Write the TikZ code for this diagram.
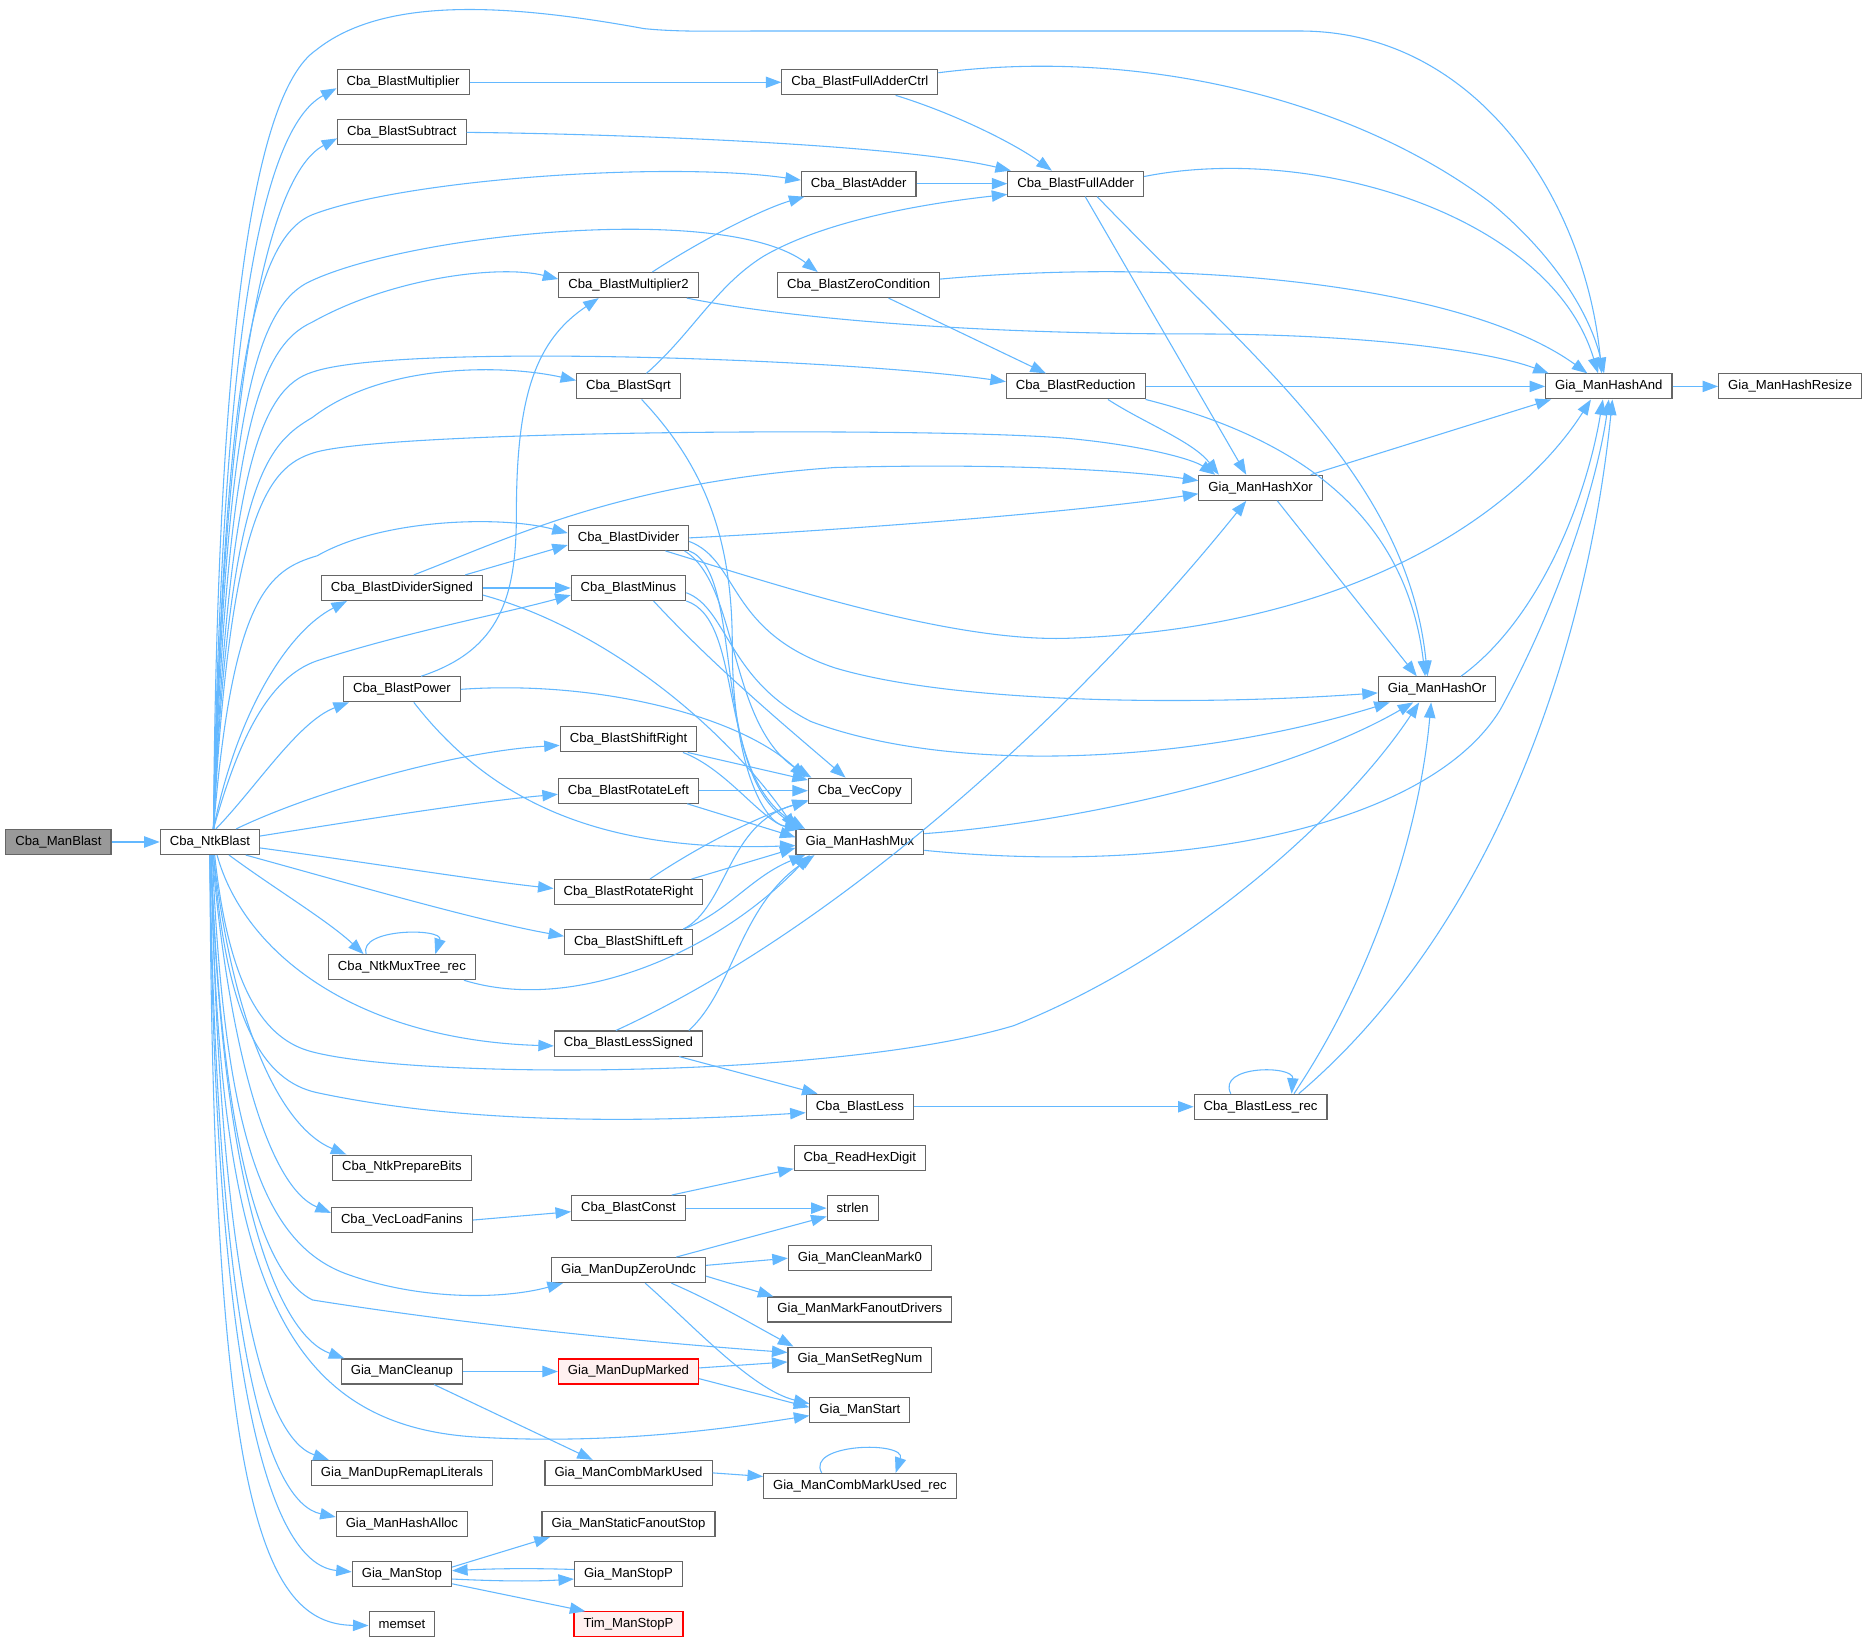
\documentclass[tikz,border=0pt]{standalone}
\usepackage{fontspec}
\setmainfont{Liberation Sans}
\usetikzlibrary{arrows.meta}
\definecolor{Edge}{RGB}{99,184,255}
\definecolor{Frame}{RGB}{102,102,102}
\definecolor{Root}{RGB}{153,153,153}
\definecolor{Lost}{RGB}{255,240,240}

\begin{document}
\begin{tikzpicture}[x=1pt,y=-1pt,>={Triangle[length=13pt,width=9.5pt]},
  fn/.style={draw=Frame,line width=0.9pt,fill=white,inner xsep=8pt,inner ysep=0pt,minimum height=21pt,font=\fontsize{11}{13}\selectfont},
  root/.style={fn,fill=Root},
  lost/.style={fn,draw=red,fill=Lost},
  call/.style={->,draw=Edge,line width=0.9pt}]
\fill[white] (0,0) rectangle (1568,1379);
\useasboundingbox (0,0) rectangle (1568,1379);

\node[root] (mb) at (49,706) {Cba\_ManBlast};
\node[fn] (nb) at (176,706) {Cba\_NtkBlast};
\node[fn] (mul) at (338,69) {Cba\_BlastMultiplier};
\node[fn] (sub) at (337,111) {Cba\_BlastSubtract};
\node[fn] (fac) at (721,69) {Cba\_BlastFullAdderCtrl};
\node[fn] (add) at (720,154) {Cba\_BlastAdder};
\node[fn] (fa) at (902,154) {Cba\_BlastFullAdder};
\node[fn] (mul2) at (527,239) {Cba\_BlastMultiplier2};
\node[fn] (zc) at (720,239) {Cba\_BlastZeroCondition};
\node[fn] (sqrt) at (527,324) {Cba\_BlastSqrt};
\node[fn] (redu) at (902,324) {Cba\_BlastReduction};
\node[fn] (hand) at (1349,324) {Gia\_ManHashAnd};
\node[fn] (hres) at (1501,324) {Gia\_ManHashResize};
\node[fn] (hxor) at (1057,409) {Gia\_ManHashXor};
\node[fn] (div) at (527,451) {Cba\_BlastDivider};
\node[fn] (divs) at (337,493) {Cba\_BlastDividerSigned};
\node[fn] (minus) at (527,493) {Cba\_BlastMinus};
\node[fn] (pow) at (337,578) {Cba\_BlastPower};
\node[fn] (hor) at (1205,578) {Gia\_ManHashOr};
\node[fn] (shr) at (527,620) {Cba\_BlastShiftRight};
\node[fn] (rotl) at (527,663) {Cba\_BlastRotateLeft};
\node[fn] (vcp) at (721,663) {Cba\_VecCopy};
\node[fn] (hmux) at (721,706) {Gia\_ManHashMux};
\node[fn] (rotr) at (527,748) {Cba\_BlastRotateRight};
\node[fn] (shl) at (527,790) {Cba\_BlastShiftLeft};
\node[fn] (mux) at (337,811) {Cba\_NtkMuxTree\_rec};
\node[fn] (lss) at (527,875) {Cba\_BlastLessSigned};
\node[fn] (less) at (721,928) {Cba\_BlastLess};
\node[fn] (lrec) at (1057,928) {Cba\_BlastLess\_rec};
\node[fn] (prep) at (337,979) {Cba\_NtkPrepareBits};
\node[fn] (hex) at (721,971) {Cba\_ReadHexDigit};
\node[fn] (vlf) at (337,1023) {Cba\_VecLoadFanins};
\node[fn] (cst) at (527,1013) {Cba\_BlastConst};
\node[fn] (strlen) at (715,1013) {strlen};
\node[fn] (cm0) at (721,1055) {Gia\_ManCleanMark0};
\node[fn] (dzu) at (527,1065) {Gia\_ManDupZeroUndc};
\node[fn] (mfd) at (721,1098) {Gia\_ManMarkFanoutDrivers};
\node[fn] (srn) at (721,1140) {Gia\_ManSetRegNum};
\node[fn] (clean) at (337,1150) {Gia\_ManCleanup};
\node[lost] (dmk) at (527,1150) {Gia\_ManDupMarked};
\node[fn] (start) at (721,1182) {Gia\_ManStart};
\node[fn] (drl) at (337,1235) {Gia\_ManDupRemapLiterals};
\node[fn] (cmu) at (527,1235) {Gia\_ManCombMarkUsed};
\node[fn] (cmur) at (721,1246) {Gia\_ManCombMarkUsed\_rec};
\node[fn] (halloc) at (337,1278) {Gia\_ManHashAlloc};
\node[fn] (sfs) at (527,1278) {Gia\_ManStaticFanoutStop};
\node[fn] (stop) at (337,1320) {Gia\_ManStop};
\node[fn] (stopp) at (527,1320) {Gia\_ManStopP};
\node[lost] (tim) at (527,1362) {Tim\_ManStopP};
\node[fn] (mset) at (337,1362) {memset};

\draw[call] (mb) -- (nb);

\draw[call] ([xshift=3pt]nb.north) .. controls (182,300) and (210,80) .. (265,42) .. controls (320,-2) and (420,2) .. (540,24) .. controls (570,27) and (600,26) .. (640,26) -- (1090,26) .. controls (1240,26) and (1330,170) .. ([xshift=-6pt]hand.north);
\draw[call] ([xshift=3pt]nb.north) .. controls (185,330) and (212,112) .. ([yshift=-5pt]mul.west);
\draw[call] ([xshift=3pt]nb.north) .. controls (186,360) and (218,150) .. ([yshift=-5pt]sub.west);
\draw[call] ([xshift=3pt]nb.north) .. controls (188,320) and (212,200) .. (262,180) .. controls (340,150) and (560,135) .. ([yshift=3pt]add.west);
\draw[call] ([xshift=3pt]nb.north) .. controls (189,340) and (215,255) .. (262,235) .. controls (350,195) and (610,170) .. ([xshift=34pt]zc.north west);
\draw[call] ([xshift=3pt]nb.north) .. controls (190,360) and (218,290) .. (262,270) .. controls (330,232) and (420,222) .. ([yshift=5pt]mul2.west);
\draw[call] ([xshift=3pt]nb.north) .. controls (191,390) and (220,325) .. (262,312) .. controls (330,288) and (700,300) .. ([yshift=4pt]redu.west);
\draw[call] ([xshift=3pt]nb.north) .. controls (192,400) and (225,372) .. (262,350) .. controls (320,305) and (420,305) .. ([yshift=5pt]sqrt.west);
\draw[call] ([xshift=3pt]nb.north) .. controls (193,430) and (225,392) .. (262,380) .. controls (320,360) and (800,358) .. (900,368) .. controls (960,374) and (1000,385) .. ([xshift=-38pt]hxor.north);
\draw[call] ([xshift=3pt]nb.north) .. controls (195,500) and (225,478) .. (266,466) .. controls (320,435) and (420,432) .. ([yshift=4pt]div.west);
\draw[call] ([xshift=3pt]nb.north) .. controls (198,600) and (240,530) .. ([xshift=22pt]divs.south west);
\draw[call] ([xshift=3pt]nb.north) .. controls (200,620) and (225,568) .. (266,554) .. controls (340,530) and (420,515) .. ([yshift=-6pt]minus.west);
\draw[call] ([xshift=5pt]nb.north) .. controls (215,660) and (250,605) .. ([xshift=5pt]pow.south west);
\draw[call] ([xshift=22pt]nb.north) .. controls (260,665) and (380,630) .. ([yshift=-5pt]shr.west);
\draw[call] ([yshift=5pt]nb.east) .. controls (300,688) and (400,672) .. ([yshift=-3pt]rotl.west);
\draw[call] ([yshift=-5pt]nb.east) .. controls (300,722) and (400,738) .. ([yshift=3pt]rotr.west);
\draw[call] ([xshift=30pt]nb.south) .. controls (290,740) and (400,772) .. ([yshift=5pt]shl.west);
\draw[call] ([xshift=16pt]nb.south) .. controls (230,745) and (275,772) .. ([xshift=30pt]mux.north west);
\draw[call] ([xshift=6pt]nb.south) .. controls (205,800) and (300,872) .. ([yshift=-2pt]lss.west);
\draw[call] ([xshift=4pt]nb.south) .. controls (192,830) and (222,872) .. (262,882) .. controls (350,905) and (700,905) .. (850,860) .. controls (1000,800) and (1130,680) .. ([xshift=-15pt]hor.south);
\draw[call] ([xshift=3pt]nb.south) .. controls (190,860) and (222,906) .. (265,916) .. controls (400,945) and (560,940) .. ([yshift=-5pt]less.west);
\draw[call] ([xshift=3pt]nb.south) .. controls (195,860) and (235,945) .. ([xshift=12pt]prep.north west);
\draw[call] ([xshift=2pt]nb.south) .. controls (192,880) and (225,995) .. ([yshift=6pt]vlf.west);
\draw[call] ([xshift=2pt]nb.south) .. controls (188,950) and (220,1042) .. (290,1068) .. controls (350,1090) and (420,1090) .. ([xshift=10pt]dzu.south west);
\draw[call] ([xshift=1pt]nb.south) .. controls (186,980) and (225,1072) .. (262,1090) .. controls (400,1112) and (550,1126) .. ([yshift=6pt]srn.west);
\draw[call] ([xshift=1pt]nb.south) .. controls (186,1010) and (235,1120) .. ([xshift=3pt]clean.north west);
\draw[call] ([xshift=1pt]nb.south) .. controls (183,1060) and (230,1195) .. (400,1205) .. controls (520,1212) and (620,1196) .. ([yshift=-5pt]start.west);
\draw[call] ([xshift=1pt]nb.south) .. controls (184,1070) and (220,1205) .. ([xshift=15pt]drl.north west);
\draw[call] (nb.south) .. controls (182,1130) and (225,1260) .. ([yshift=6pt]halloc.west);
\draw[call] (nb.south) .. controls (180,1180) and (230,1312) .. ([yshift=2pt]stop.west);
\draw[call] (nb.south) .. controls (178,1260) and (220,1362) .. ([yshift=-1pt]mset.west);

\draw[call] (mul) -- (fac);
\draw[call] ([yshift=8pt]fac.east) .. controls (950,40) and (1130,80) .. (1250,170) .. controls (1310,220) and (1335,270) .. ([xshift=-4pt]hand.north);
\draw[call] ([xshift=30pt]fac.south) .. controls (800,95) and (850,120) .. ([xshift=-20pt]fa.north);
\draw[call] (sub.east) .. controls (500,112) and (750,120) .. ([xshift=3pt]fa.north west);
\draw[call] (add) -- (fa);
\draw[call] ([yshift=6pt]fa.east) .. controls (1100,120) and (1300,180) .. ([xshift=-9pt]hand.north);
\draw[call] ([xshift=8pt]fa.south) -- ([xshift=-12pt]hxor.north);
\draw[call] ([xshift=18pt]fa.south) .. controls (1050,300) and (1180,400) .. ([xshift=-8pt]hor.north);
\draw[call] ([xshift=20pt]mul2.north) .. controls (590,200) and (640,175) .. ([xshift=3pt]add.south west);
\draw[call] ([xshift=-10pt]mul2.south east) .. controls (650,265) and (800,280) .. (1000,280) .. controls (1150,280) and (1250,295) .. ([xshift=3pt]hand.north west);
\draw[call] ([yshift=5pt]zc.east) .. controls (1000,215) and (1230,240) .. ([xshift=-18pt]hand.north);
\draw[call] ([xshift=25pt]zc.south) -- ([xshift=-25pt]redu.north);
\draw[call] ([xshift=15pt]sqrt.north) .. controls (580,280) and (600,240) .. (640,215) .. controls (700,180) and (800,168) .. ([yshift=2pt]fa.south west);
\draw[call] ([xshift=11pt]sqrt.south) .. controls (590,390) and (614,450) .. (614,540) .. controls (614,640) and (640,690) .. ([xshift=4pt]hmux.north west);
\draw[call] (redu) -- (hand);
\draw[call] ([xshift=27pt]redu.south) .. controls (960,355) and (1000,370) .. ([xshift=-35pt]hxor.north);
\draw[call] (redu.south east) .. controls (1100,370) and (1180,440) .. ([xshift=-10pt]hor.north);
\draw[call] (hand) -- (hres);
\draw[call] ([xshift=42pt]hxor.north) -- ([xshift=5pt]hand.south west);
\draw[call] ([xshift=14pt]hxor.south) -- ([xshift=-17pt]hor.north);
\draw[call] ([xshift=20pt]hor.north) .. controls (1290,520) and (1330,420) .. ([xshift=-5pt]hand.south);

\draw[call] (div.east) .. controls (700,445) and (900,430) .. ([yshift=-5pt]hxor.west);
\draw[call] ([xshift=-20pt]div.south east) .. controls (650,490) and (800,540) .. (900,535) .. controls (1150,525) and (1280,420) .. ([xshift=-15pt]hand.south);
\draw[call] ([yshift=-3pt]div.east) .. controls (620,470) and (610,530) .. (700,560) .. controls (800,590) and (1000,592) .. ([yshift=-3pt]hor.west);
\draw[call] ([xshift=-4pt]div.south east) .. controls (620,490) and (610,610) .. ([xshift=3pt]vcp.north west);
\draw[call] (div.south east) .. controls (625,480) and (595,650) .. ([xshift=6pt]hmux.north west);
\draw[call] ([xshift=10pt]divs.north) .. controls (430,450) and (520,405) .. (700,392) .. controls (850,388) and (950,395) .. ([yshift=6pt]hxor.west);
\draw[call] ([xshift=-15pt]divs.north east) -- ([yshift=-6pt]div.west);
\draw[call] (divs) -- (minus);
\draw[call] ([yshift=-6pt]divs.east) .. controls (500,525) and (600,600) .. (hmux.north west);
\draw[call] ([yshift=-4pt]minus.east) .. controls (610,510) and (610,570) .. (680,605) .. controls (800,650) and (1000,640) .. ([xshift=10pt]hor.south west);
\draw[call] ([xshift=21pt]minus.south) .. controls (600,560) and (660,610) .. ([xshift=-12pt]vcp.north);
\draw[call] (minus.south east) .. controls (625,520) and (600,650) .. ([xshift=8pt]hmux.north west);
\draw[call] ([xshift=16pt]pow.north) .. controls (420,545) and (433,500) .. (433,430) .. controls (433,330) and (450,285) .. ([xshift=-25pt]mul2.south);
\draw[call] (pow.east) .. controls (500,570) and (620,600) .. ([xshift=-2pt]vcp.north west);
\draw[call] ([xshift=10pt]pow.south) .. controls (410,670) and (500,715) .. ([yshift=-3pt]hmux.west);

\draw[call] ([xshift=-8pt]shr.south east) -- ([yshift=-2pt]vcp.north west);
\draw[call] ([xshift=-12pt]shr.south east) .. controls (610,645) and (640,690) .. ([xshift=5pt]hmux.north west);
\draw[call] (rotl) -- (vcp);
\draw[call] ([xshift=-10pt]rotl.south east) -- ([yshift=4pt]hmux.west);
\draw[call] ([xshift=18pt]rotr.north) .. controls (600,700) and (650,680) .. ([yshift=3pt]vcp.south west);
\draw[call] ([xshift=-10pt]rotr.north east) -- ([yshift=-5pt]hmux.west);
\draw[call] ([xshift=-8pt]shl.north east) .. controls (610,760) and (610,690) .. ([yshift=2pt]vcp.south west);
\draw[call] ([xshift=-8pt]shl.north east) .. controls (610,765) and (630,735) .. ([xshift=8pt]hmux.south west);
\draw[call] ([xshift=-30pt]mux.north) .. controls (300,778) and (372,778) .. ([xshift=28pt]mux.north);
\draw[call] ([xshift=-10pt]mux.south east) .. controls (480,850) and (600,800) .. ([xshift=12pt]hmux.south west);
\draw[call] ([yshift=7pt]hmux.east) .. controls (900,690) and (1080,650) .. ([xshift=-20pt]hor.south);
\draw[call] ([yshift=-7pt]hmux.east) .. controls (1000,735) and (1200,690) .. (1258,595) .. controls (1310,500) and (1340,400) .. (hand.south);

\draw[call] ([xshift=52pt]lss.north west) .. controls (700,780) and (900,600) .. ([xshift=-12pt]hxor.south);
\draw[call] ([xshift=-12pt]lss.north east) .. controls (615,830) and (620,760) .. ([xshift=16pt]hmux.south west);
\draw[call] ([xshift=-20pt]lss.south east) -- ([xshift=10pt]less.north west);
\draw[call] (less) -- (lrec);
\draw[call] ([xshift=-25pt]lrec.north) .. controls (1020,893) and (1085,893) .. ([xshift=26pt]lrec.north);
\draw[call] ([xshift=28pt]lrec.north) .. controls (1150,820) and (1190,700) .. ([xshift=-5pt]hor.south);
\draw[call] ([xshift=32pt]lrec.north) .. controls (1250,780) and (1330,550) .. ([xshift=3pt]hand.south);

\draw[call] (vlf.east) -- ([yshift=-3pt]cst.west);
\draw[call] ([xshift=-12pt]cst.north east) -- ([yshift=2pt]hex.south west);
\draw[call] (cst) -- (strlen);
\draw[call] ([xshift=-25pt]dzu.north east) -- ([yshift=-7pt]strlen.west);
\draw[call] ([yshift=4pt]dzu.east) -- (cm0.west);
\draw[call] ([yshift=-5pt]dzu.east) -- ([xshift=5pt]mfd.north west);
\draw[call] ([xshift=36pt]dzu.south) .. controls (600,1092) and (630,1110) .. ([xshift=5pt]srn.north west);
\draw[call] ([xshift=14pt]dzu.south) .. controls (580,1110) and (630,1165) .. ([yshift=5pt]start.west);
\draw[call] (clean) -- (dmk);
\draw[call] ([xshift=27pt]clean.south) -- ([xshift=-30pt]cmu.north);
\draw[call] ([yshift=3pt]dmk.east) -- ([yshift=-2pt]srn.west);
\draw[call] ([yshift=-6pt]dmk.east) -- ([yshift=2pt]start.west);
\draw[call] (cmu.east) -- ([yshift=8pt]cmur.west);
\draw[call] ([xshift=-32pt]cmur.north) .. controls (675,1210) and (760,1208) .. ([xshift=30pt]cmur.north);
\draw[call] ([yshift=6pt]stop.east) -- ([xshift=7pt]sfs.south west);
\draw[call] ([yshift=-4pt]stop.east) .. controls (420,1326) and (450,1326) .. ([yshift=-4pt]stopp.west);
\draw[call] ([yshift=4pt]stopp.west) .. controls (450,1315) and (420,1315) .. ([yshift=3pt]stop.east);
\draw[call] ([yshift=-8pt]stop.east) -- ([xshift=10pt]tim.north west);
\end{tikzpicture}
\end{document}
